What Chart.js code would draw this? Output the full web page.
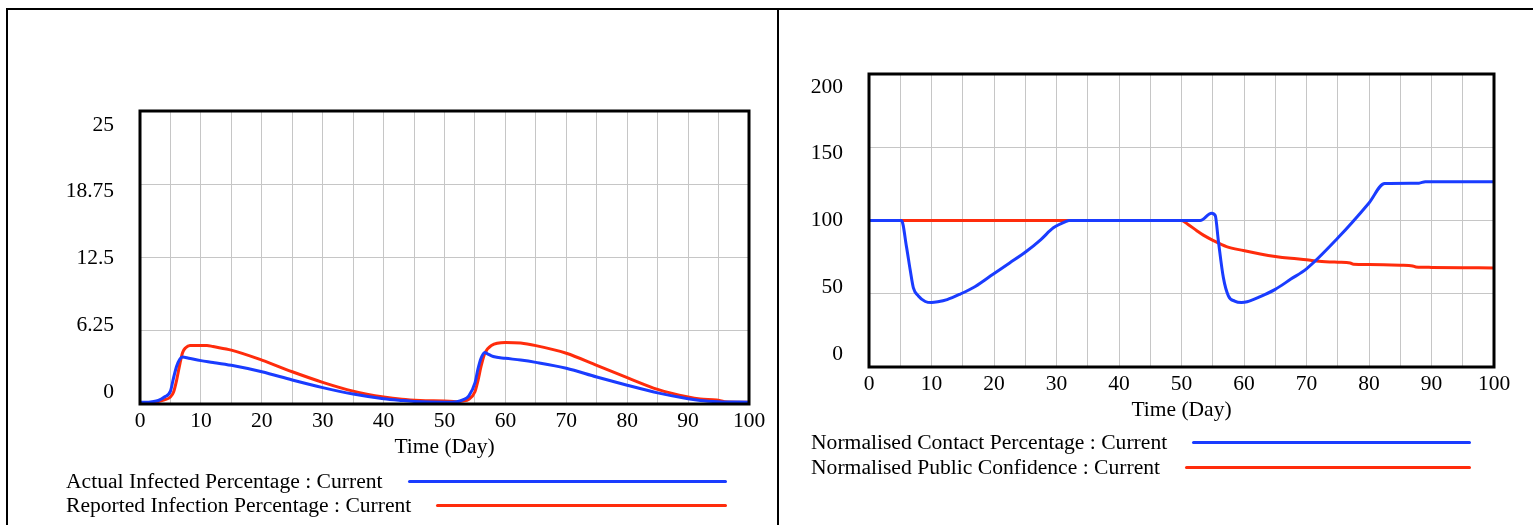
<!DOCTYPE html>
<html>
<head>
<meta charset="utf-8">
<script src="https://cdn.jsdelivr.net/npm/chart.js@4.4.1/dist/chart.umd.min.js"></script>
<style>
  html, body { margin: 0; padding: 0; background: #fff; overflow: hidden; }
  body { width: 1533px; height: 525px; position: relative; font-family: "Liberation Serif", "Times New Roman", serif; }
  .frame { position: absolute; left: 6px; top: 8px; width: 1600px; height: 600px; border-left: 2px solid #000; border-top: 2px solid #000; }
  .divider { position: absolute; left: 777px; top: 8px; width: 2px; height: 600px; background: #000; }
  canvas { position: absolute; top: 0; }
  .leg { position: absolute; display: flex; align-items: center; font-size: 21.6px; line-height: 24px; height: 24px; color: #000; white-space: nowrap; }
  .leg .ln { flex: 1; height: 3px; border-radius: 2px; margin-left: 25px; }
</style>
</head>
<body>
<div class="frame"></div>
<div class="divider"></div>
<canvas id="c1" width="777" height="470" style="left:0px;width:777px;height:470px"></canvas>
<canvas id="c2" width="755" height="440" style="left:778px;width:755px;height:440px"></canvas>
<div id="legends"></div>
<script>
// ---------- Data ----------
const xTickLabels = ['0','10','20','30','40','50','60','70','80','90','100'];
const xGridDays = [0,5,10,15,20,25,30,35,40,45,50,55,60,65,70,75,80,85,90,95,100];

// Left panel
const leftYTicks = [0, 6.25, 12.5, 18.75, 25];
const leftYLabels = ['0', '6.25', '12.5', '18.75', '25'];

const actualDays = [0,1,2,3,4,5,5.5,6,6.5,7,8,10,12,15,20,25,30,35,40,43,45,50,52,53,54,55,55.5,56,56.6,57,58,60,62.5,65,70,75,80,85,90,92,95,100];
const actualInfected = [0.15,0.15,0.2,0.3,0.6,1.1,2.2,3.2,3.8,4.0,3.9,3.7,3.55,3.3,2.75,2.05,1.4,0.85,0.45,0.3,0.22,0.15,0.2,0.35,0.7,1.8,3.0,3.9,4.4,4.3,4.05,3.9,3.75,3.55,3.05,2.3,1.6,0.95,0.45,0.3,0.2,0.15];

const reportedDays = [0,2,3,4,5,5.5,6,6.5,7,7.5,8.2,11,12,15,20,25,30,35,40,43,46,50,52,53,54,55,55.5,56,56.6,57.7,60,62.5,65,70,75,80,85,90,92,94.7,96,100];
const reportedInfection = [0.1,0.1,0.2,0.35,0.6,1.0,2.0,3.3,4.4,4.8,5.0,5.0,4.9,4.6,3.75,2.75,1.85,1.1,0.6,0.4,0.3,0.25,0.2,0.25,0.4,1.05,2.0,3.2,4.3,5.0,5.25,5.2,4.98,4.33,3.3,2.25,1.25,0.6,0.43,0.34,0.2,0.15];

// Right panel
const rightYTicks = [0, 50, 100, 150, 200];
const rightYLabels = ['0', '50', '100', '150', '200'];

const contactDays = [0,5.2,6,6.6,7.1,7.9,9,10,11,12.5,14.6,17,19.9,22.5,25.2,27.5,29.5,31.6,32,53,54.8,55.4,55.9,56.7,57.5,58.5,59.6,60.5,62.6,65,67.5,70,75,80,82.5,88,89,100];
const contactPct = [100,100,82,66,54,48.5,44.7,44,44.5,46,49.8,55,63.5,71,79,87,95,99.5,100,100,105,103.4,86,61,48.6,45,44,44.5,48,53,60,67,88,112,125.3,125.5,126.5,126.5];

const confDays = [0,50,51,52.4,53.5,55.1,57.2,59.9,62.6,65,67.5,70,72,75,77,77.5,80,85,87,87.5,90,95,100];
const publicConfidence = [100,100,97.5,93.2,90,86.3,82.2,79.5,77.2,75.5,74.2,73.2,72.2,71.5,71,70.2,70,69.5,69,68.3,68,67.8,67.6];

// ---------- Styling ----------
const BLUE = '#1a3cff';
const RED = '#ff2c0c';
const GRID = '#c6c6c6';
const FONT = { family: '"Liberation Serif", "Times New Roman", serif', size: 21.5, lineHeight: 1.2 };

const pts = (xs, ys) => xs.map((x, i) => ({ x: x, y: ys[i] }));

const plotBorder = {
  id: 'plotBorder',
  afterDatasetsDraw(chart) {
    const { ctx, chartArea: a } = chart;
    ctx.save();
    ctx.strokeStyle = '#000';
    ctx.lineWidth = 3;
    ctx.strokeRect(a.left, a.top, a.right - a.left, a.bottom - a.top);
    ctx.restore();
  }
};

function makeChart(id, cfg) {
  return new Chart(document.getElementById(id), {
    type: 'line',
    data: {
      datasets: cfg.series.map(s => ({
        label: s.label,
        data: pts(s.days, s.values),
        borderColor: s.color,
        backgroundColor: s.color,
        borderWidth: 3,
        pointRadius: 0,
        cubicInterpolationMode: 'monotone',
        fill: false,
        xAxisID: 'x',
        yAxisID: 'y'
      }))
    },
    options: {
      responsive: false,
      devicePixelRatio: 1,
      animation: false,
      events: [],
      layout: { padding: cfg.padding },
      plugins: { legend: { display: false }, tooltip: { enabled: false } },
      scales: {
        x: {
          type: 'linear', position: 'bottom', min: 0, max: 100,
          afterBuildTicks: s => { s.ticks = xGridDays.map(v => ({ value: v })); },
          ticks: {
            autoSkip: false, maxRotation: 0, padding: 4, color: '#000', font: FONT,
            callback: v => (v % 10 === 0 ? xTickLabels[v / 10] : '')
          },
          grid: { color: GRID, lineWidth: 1, drawTicks: false },
          border: { display: false },
          title: { display: true, text: 'Time (Day)', color: '#000', font: FONT, padding: 0 },
          afterFit: s => { s.height = 56; }
        },
        yl: {
          type: 'linear', position: 'left', min: cfg.labelMin, max: cfg.labelMax,
          afterBuildTicks: s => { s.ticks = cfg.yTicks.map(v => ({ value: v })); },
          ticks: { padding: 26, color: '#000', font: FONT, callback: (v, i) => cfg.yLabels[i] },
          grid: { display: false, drawTicks: false },
          border: { display: false },
          afterFit: s => { s.width = cfg.yAxisWidth; }
        },
        y: {
          type: 'linear', position: 'left', min: cfg.yMin, max: cfg.yMax,
          afterBuildTicks: s => { s.ticks = cfg.yTicks.map(v => ({ value: v })); },
          ticks: { display: false },
          grid: { color: GRID, lineWidth: 1, drawTicks: false },
          border: { display: false },
          afterFit: s => { s.width = 0; }
        }
      }
    },
    plugins: [plotBorder]
  });
}

// Left chart: plot area x 140..749, y 111..404
makeChart('c1', {
  series: [
    { label: 'Actual Infected Percentage : Current', days: actualDays, values: actualInfected, color: BLUE },
    { label: 'Reported Infection Percentage : Current', days: reportedDays, values: reportedInfection, color: RED }
  ],
  padding: { left: 0, top: 111, right: 28, bottom: 10 },
  yAxisWidth: 140,
  yMin: 0, yMax: 25,
  labelMin: -1.124, labelMax: 26.311,
  yTicks: leftYTicks, yLabels: leftYLabels
});

// Right chart: plot area x 869..1494, y 74..367
makeChart('c2', {
  series: [
    { label: 'Normalised Contact Percentage : Current', days: contactDays, values: contactPct, color: BLUE },
    { label: 'Normalised Public Confidence : Current', days: confDays, values: publicConfidence, color: RED }
  ],
  padding: { left: 0, top: 74, right: 39, bottom: 17 },
  yAxisWidth: 91,
  yMin: 0, yMax: 200,
  labelMin: -9.74, labelMax: 209.74,
  yTicks: rightYTicks, yLabels: rightYLabels
});

// Legends (HTML, real text)
const legendRows = [
  { text: 'Actual Infected Percentage : Current', color: BLUE, left: 66, right: 727, cy: 481 },
  { text: 'Reported Infection Percentage : Current', color: RED, left: 66, right: 727, cy: 505 },
  { text: 'Normalised Contact Percentage : Current', color: BLUE, left: 811, right: 1471, cy: 442 },
  { text: 'Normalised Public Confidence : Current', color: RED, left: 811, right: 1471, cy: 467 }
];
const legWrap = document.getElementById('legends');
legendRows.forEach(r => {
  const d = document.createElement('div');
  d.className = 'leg';
  d.style.left = r.left + 'px';
  d.style.width = (r.right - r.left) + 'px';
  d.style.top = (r.cy - 12) + 'px';
  const t = document.createElement('span');
  t.textContent = r.text;
  const l = document.createElement('span');
  l.className = 'ln';
  l.style.background = r.color;
  d.appendChild(t);
  d.appendChild(l);
  legWrap.appendChild(d);
});
</script>
</body>
</html>
